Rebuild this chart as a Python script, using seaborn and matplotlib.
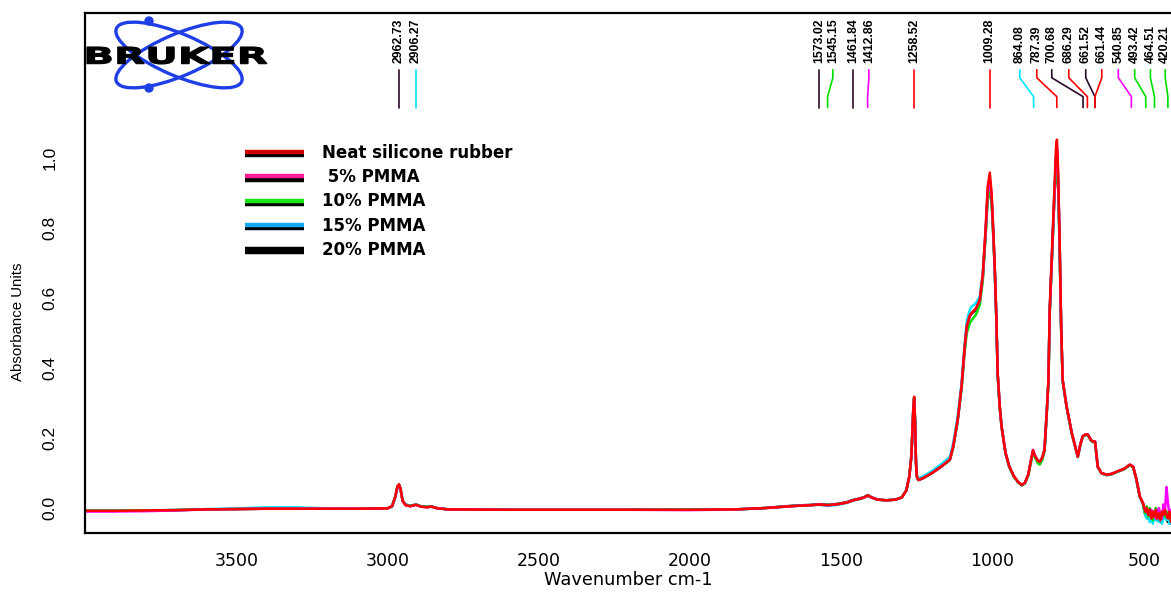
import matplotlib
matplotlib.use("Agg")
import matplotlib.pyplot as plt
import matplotlib.patheffects as pe
import pandas as pd
import seaborn as sns
from matplotlib.lines import Line2D
from matplotlib.patches import Ellipse, Circle, PathPatch
from matplotlib.textpath import TextPath
from matplotlib.font_manager import FontProperties
from matplotlib.transforms import Affine2D

# wavenumber grid (cm-1)
wavenumber = [
    4000, 3900, 3800, 3700, 3600, 3500, 3400, 3300, 3200, 3100,
    3000, 2985, 2975, 2967, 2962, 2957, 2950, 2940, 2925, 2906,
    2890, 2870, 2855, 2840, 2800, 2600, 2400, 2200, 2000, 1850,
    1750, 1700, 1650, 1600, 1573, 1545, 1510, 1480, 1461, 1440,
    1425, 1412, 1400, 1380, 1350, 1320, 1300, 1285, 1275, 1268,
    1262, 1259, 1256, 1253, 1250, 1245, 1230, 1200, 1170, 1141,
    1130, 1115, 1102, 1092, 1085, 1075, 1069, 1055, 1042, 1032,
    1023, 1016, 1009, 1003, 1000, 993, 987, 983, 976, 970,
    957, 945, 930, 915, 903, 893, 882, 872, 866, 860,
    850, 844, 835, 828, 821, 815, 811, 805, 795, 790,
    787, 783, 778, 773, 768, 755, 738, 718, 710, 702,
    693, 685, 675, 669, 661, 652, 640, 622, 605, 589,
    565, 546, 535, 525, 513, 503, 495, 490, 485, 480,
    475, 470, 465, 460, 455, 450, 445, 440, 435, 430,
    425, 420, 415, 410, 405, 400,
]

neat = [
    -0.008, -0.008, -0.007, -0.006, -0.004, -0.003, -0.002, -0.002, -0.002, -0.002,
    -0.001, 0.005, 0.030, 0.062, 0.068, 0.055, 0.020, 0.008, 0.005, 0.009,
    0.004, 0.002, 0.004, 0.000, -0.004, -0.005, -0.005, -0.005, -0.005, -0.004,
    0.000, 0.003, 0.006, 0.008, 0.010, 0.008, 0.011, 0.016, 0.022, 0.026,
    0.030, 0.036, 0.030, 0.024, 0.022, 0.024, 0.030, 0.050, 0.090, 0.150,
    0.280, 0.318, 0.250, 0.130, 0.090, 0.080, 0.085, 0.100, 0.118, 0.138,
    0.175, 0.253, 0.350, 0.460, 0.520, 0.550, 0.557, 0.570, 0.595, 0.670,
    0.795, 0.918, 0.958, 0.900, 0.845, 0.702, 0.538, 0.387, 0.290, 0.233,
    0.158, 0.120, 0.092, 0.074, 0.066, 0.072, 0.095, 0.140, 0.165, 0.150,
    0.135, 0.132, 0.145, 0.167, 0.270, 0.367, 0.567, 0.700, 0.920, 1.030,
    1.052, 0.960, 0.760, 0.520, 0.367, 0.290, 0.215, 0.147, 0.180, 0.205,
    0.210, 0.210, 0.195, 0.190, 0.190, 0.118, 0.100, 0.095, 0.098, 0.104,
    0.112, 0.124, 0.118, 0.085, 0.033, 0.015, -0.010, 0.000, -0.020, -0.005,
    -0.030, -0.010, -0.025, -0.005, -0.030, -0.015, -0.035, -0.010, -0.020, -0.005,
    -0.020, -0.030, -0.010, -0.040, -0.020, -0.035,
]

pmma_5 = [
    -0.010, -0.010, -0.009, -0.007, -0.004, -0.003, -0.002, -0.002, -0.002, -0.002,
    -0.001, 0.005, 0.029, 0.060, 0.066, 0.054, 0.020, 0.008, 0.005, 0.009,
    0.004, 0.002, 0.004, 0.000, -0.004, -0.005, -0.005, -0.005, -0.006, -0.004,
    0.000, 0.003, 0.006, 0.008, 0.010, 0.008, 0.011, 0.016, 0.022, 0.026,
    0.030, 0.035, 0.030, 0.024, 0.022, 0.024, 0.030, 0.050, 0.090, 0.148,
    0.275, 0.312, 0.248, 0.130, 0.090, 0.080, 0.085, 0.100, 0.118, 0.138,
    0.175, 0.252, 0.350, 0.458, 0.518, 0.550, 0.557, 0.570, 0.592, 0.665,
    0.785, 0.900, 0.940, 0.890, 0.838, 0.698, 0.535, 0.385, 0.290, 0.233,
    0.158, 0.120, 0.092, 0.074, 0.066, 0.072, 0.095, 0.140, 0.166, 0.150,
    0.135, 0.132, 0.145, 0.167, 0.270, 0.365, 0.560, 0.690, 0.905, 1.010,
    1.035, 0.950, 0.755, 0.518, 0.365, 0.290, 0.215, 0.147, 0.180, 0.205,
    0.210, 0.210, 0.195, 0.190, 0.190, 0.118, 0.100, 0.095, 0.098, 0.104,
    0.112, 0.124, 0.118, 0.085, 0.033, 0.015, -0.005, -0.012, -0.010, -0.020,
    -0.005, -0.025, -0.010, -0.030, -0.015, 0.000, -0.020, -0.030, 0.010, -0.010,
    0.060, 0.015, -0.020, -0.005, -0.030, -0.015,
]

pmma_10 = [
    -0.008, -0.008, -0.007, -0.006, -0.004, -0.003, -0.002, -0.002, -0.002, -0.002,
    -0.001, 0.005, 0.030, 0.062, 0.067, 0.055, 0.020, 0.009, 0.006, 0.010,
    0.005, 0.003, 0.005, 0.000, -0.004, -0.005, -0.005, -0.005, -0.005, -0.004,
    0.000, 0.003, 0.006, 0.008, 0.010, 0.009, 0.011, 0.016, 0.022, 0.026,
    0.030, 0.036, 0.030, 0.024, 0.022, 0.024, 0.030, 0.050, 0.090, 0.150,
    0.278, 0.315, 0.248, 0.130, 0.090, 0.080, 0.085, 0.100, 0.118, 0.136,
    0.172, 0.248, 0.342, 0.445, 0.500, 0.528, 0.536, 0.552, 0.580, 0.650,
    0.772, 0.880, 0.905, 0.868, 0.825, 0.690, 0.530, 0.380, 0.286, 0.230,
    0.155, 0.118, 0.090, 0.073, 0.065, 0.070, 0.092, 0.135, 0.160, 0.145,
    0.128, 0.124, 0.138, 0.162, 0.265, 0.360, 0.555, 0.685, 0.895, 0.985,
    1.000, 0.930, 0.745, 0.512, 0.362, 0.288, 0.213, 0.145, 0.178, 0.203,
    0.208, 0.208, 0.193, 0.188, 0.188, 0.117, 0.099, 0.094, 0.097, 0.103,
    0.111, 0.122, 0.116, 0.083, 0.032, 0.014, -0.015, 0.005, -0.025, 0.000,
    -0.020, -0.035, -0.015, 0.000, -0.025, -0.005, -0.030, -0.020, -0.005, -0.025,
    -0.010, -0.025, -0.005, -0.035, -0.015, -0.030,
]

pmma_15 = [
    -0.008, -0.008, -0.007, -0.006, -0.003, -0.001, 0.002, 0.002, -0.001, -0.002,
    -0.001, 0.004, 0.028, 0.060, 0.066, 0.054, 0.020, 0.010, 0.006, 0.010,
    0.005, 0.003, 0.004, 0.000, -0.004, -0.005, -0.005, -0.005, -0.005, -0.004,
    0.000, 0.003, 0.006, 0.008, 0.009, 0.006, 0.009, 0.015, 0.021, 0.025,
    0.030, 0.035, 0.030, 0.024, 0.022, 0.025, 0.031, 0.051, 0.090, 0.148,
    0.275, 0.312, 0.248, 0.132, 0.093, 0.084, 0.090, 0.106, 0.125, 0.146,
    0.185, 0.262, 0.360, 0.470, 0.535, 0.566, 0.575, 0.585, 0.605, 0.672,
    0.788, 0.898, 0.930, 0.884, 0.835, 0.695, 0.534, 0.384, 0.289, 0.233,
    0.158, 0.120, 0.092, 0.074, 0.066, 0.072, 0.095, 0.139, 0.164, 0.149,
    0.134, 0.131, 0.144, 0.166, 0.268, 0.364, 0.560, 0.692, 0.905, 1.000,
    1.020, 0.940, 0.750, 0.515, 0.364, 0.289, 0.214, 0.147, 0.180, 0.205,
    0.210, 0.210, 0.195, 0.190, 0.189, 0.118, 0.100, 0.095, 0.098, 0.104,
    0.112, 0.123, 0.117, 0.084, 0.030, 0.012, -0.020, -0.030, -0.015, -0.040,
    -0.025, -0.045, -0.020, -0.035, -0.010, -0.040, -0.025, -0.045, -0.030, -0.015,
    -0.035, -0.020, -0.045, -0.030, -0.055, -0.040,
]

pmma_20 = [
    -0.008, -0.008, -0.007, -0.006, -0.004, -0.003, -0.002, -0.002, -0.002, -0.002,
    -0.001, 0.005, 0.030, 0.061, 0.066, 0.054, 0.021, 0.010, 0.006, 0.010,
    0.005, 0.003, 0.005, 0.000, -0.004, -0.005, -0.005, -0.005, -0.005, -0.004,
    0.000, 0.004, 0.007, 0.009, 0.011, 0.009, 0.012, 0.017, 0.023, 0.027,
    0.031, 0.037, 0.031, 0.024, 0.022, 0.024, 0.030, 0.050, 0.090, 0.150,
    0.278, 0.315, 0.248, 0.130, 0.090, 0.080, 0.085, 0.100, 0.118, 0.138,
    0.175, 0.252, 0.350, 0.458, 0.518, 0.548, 0.555, 0.566, 0.590, 0.660,
    0.780, 0.893, 0.920, 0.878, 0.830, 0.692, 0.532, 0.383, 0.288, 0.232,
    0.157, 0.119, 0.091, 0.073, 0.065, 0.071, 0.094, 0.138, 0.162, 0.148,
    0.133, 0.130, 0.143, 0.165, 0.266, 0.362, 0.555, 0.685, 0.895, 0.968,
    0.980, 0.925, 0.742, 0.510, 0.362, 0.288, 0.213, 0.146, 0.179, 0.204,
    0.209, 0.209, 0.194, 0.189, 0.189, 0.117, 0.099, 0.094, 0.097, 0.103,
    0.111, 0.123, 0.117, 0.084, 0.032, 0.014, -0.020, -0.005, -0.030, -0.010,
    -0.035, -0.015, -0.030, -0.010, -0.035, -0.020, -0.040, -0.015, -0.030, -0.010,
    -0.030, -0.040, -0.015, -0.045, -0.025, -0.040,
]

sample_names = ["Neat silicone rubber", " 5% PMMA", "10% PMMA", "15% PMMA", "20% PMMA"]
line_colours = ["#ff0000", "#ff00ff", "#00dd00", "#00e5ff", "#000000"]
legend_colours = ["#d00000", "#ff1a9a", "#19e619", "#1aa8f0", "#000000"]

# peak picks: actual position, where the label sits, tick colour
peak_pos = [2962.73, 2906.27, 1573.02, 1545.15, 1461.84, 1412.86, 1258.52, 1009.28,
            864.08, 787.39, 700.68, 686.29, 661.52, 661.44, 540.85, 493.42, 464.51, 420.21]
peak_label_pos = [2962.73, 2906.27, 1573.02, 1527.8, 1461.84, 1408.8, 1258.52, 1009.28,
                  909.8, 853.6, 804.0, 747.8, 691.7, 638.8, 584.0, 530.0, 478.0, 429.0]
peak_colours = ["#2a0a2a", "#00e5ff", "#2a0a2a", "#00dd00", "#2a0a2a", "#ff00ff", "#ff0000",
                "#ff0000", "#00e5ff", "#ff0000", "#2a0a2a", "#ff0000", "#2a0a2a", "#ff0000",
                "#ff00ff", "#00dd00", "#00dd00", "#00dd00"]

x_ticks = [3500, 3000, 2500, 2000, 1500, 1000, 500]
y_ticks = [0.0, 0.2, 0.4, 0.6, 0.8, 1.0]

series = [neat, pmma_5, pmma_10, pmma_15, pmma_20]
df = pd.concat(
    [pd.DataFrame({"wavenumber": wavenumber, "absorbance": s, "sample": n})
     for n, s in zip(sample_names, series)],
    ignore_index=True,
)

sns.set_style("white")
plt.rcParams["font.family"] = ["DejaVu Sans"]
plt.rcParams["text.color"] = "black"
plt.rcParams["axes.labelcolor"] = "black"
plt.rcParams["xtick.color"] = "black"
plt.rcParams["ytick.color"] = "black"

W, H = 1171, 592
fig = plt.figure(figsize=(W / 100, H / 100), dpi=100)
ax = fig.add_axes([85 / W, 59 / H, 1089 / W, 520 / H])

# draw neat last so red sits on top
order = sample_names[::-1]
sns.lineplot(data=df, x="wavenumber", y="absorbance", hue="sample",
             hue_order=order, palette=dict(zip(sample_names, line_colours)),
             estimator=None, sort=False, legend=False, linewidth=1.8, ax=ax)

ax.set_xlim(4000, 400)
ax.set_ylim(-0.0714, 1.414)
ax.set_xticks(x_ticks)
ax.set_yticks(y_ticks)
ax.set_yticklabels([f"{v:.1f}" for v in y_ticks])

for side in ["left", "bottom", "top", "right"]:
    ax.spines[side].set_linewidth(1.6)
    ax.spines[side].set_color("black")

ax.tick_params(axis="x", direction="out", length=5, width=1.5, pad=9,
               labelsize=12.5, labelfontfamily="DejaVu Sans", colors="black")
ax.tick_params(axis="y", direction="out", length=7, width=1.5, pad=13,
               labelsize=12.5, labelfontfamily="Liberation Sans", colors="black")
for lab in ax.get_yticklabels():
    lab.set_rotation(90)
    lab.set_va("center")

ax.set_xlabel("Wavenumber cm-1", fontsize=12.8, family="DejaVu Sans", color="black")
ax.set_ylabel("Absorbance Units", fontsize=10.8, family="Liberation Sans", color="black")
ax.xaxis.set_label_coords(0.4986, -0.073)
ax.yaxis.set_label_coords(-0.055, 0.406)

# peak pick ticks and labels
y_top, y_k1, y_k2, y_bot = 1.252, 1.229, 1.175, 1.144
for p, lp, c in zip(peak_pos, peak_label_pos, peak_colours):
    ax.plot([lp, lp, p, p], [y_top, y_k1, y_k2, y_bot], color=c, lw=1.2)
    ax.text(lp, 1.272, f"{p:.2f}", rotation=90, ha="center", va="bottom",
            fontsize=8.8, family="Liberation Sans", weight="bold", color="black")

# legend with shadowed handles
handles = [Line2D([], [], color=c, lw=3.2, solid_capstyle="butt",
                  path_effects=[pe.SimpleLineShadow(offset=(0, -2.4), shadow_color="black", alpha=1.0),
                                pe.Normal()])
           for c in legend_colours]
leg = ax.legend(handles, sample_names, loc="upper left",
                bbox_to_anchor=(245 / W, (H - 144) / H), bbox_transform=fig.transFigure,
                frameon=False, borderpad=0, borderaxespad=0, handlelength=3.54,
                handletextpad=1.08, labelspacing=0.375,
                prop=FontProperties(family="DejaVu Sans", weight="bold", size=12))
for t in leg.get_texts():
    t.set_color("black")

# Bruker logo, drawn in pixel units
lax = fig.add_axes([85 / W, (H - 95) / H, 190 / W, 82 / H])
lax.set_xlim(85, 275)
lax.set_ylim(95, 13)
lax.axis("off")
blue = "#1f3fe6"
for ang in (23, -23):
    lax.add_patch(Ellipse((179, 55), 136, 42, angle=ang, fill=False, ec=blue, lw=2.4))
lax.add_patch(Circle((149, 21), 4, color=blue))
lax.add_patch(Circle((149, 88), 4, color=blue))
tp = TextPath((0, 0), "BRUKER", size=20, prop=FontProperties(family="DejaVu Sans", weight="bold"))
ext = tp.get_extents()
sx = 180 / ext.width
sy = 17 / ext.height
tr = Affine2D().translate(-ext.x0, -ext.y0).scale(sx, -sy).translate(87, 64)
lax.add_patch(PathPatch(tr.transform_path(tp), fc="black", ec="black", lw=0.8, zorder=3))

fig.savefig("out.png", dpi=100)
